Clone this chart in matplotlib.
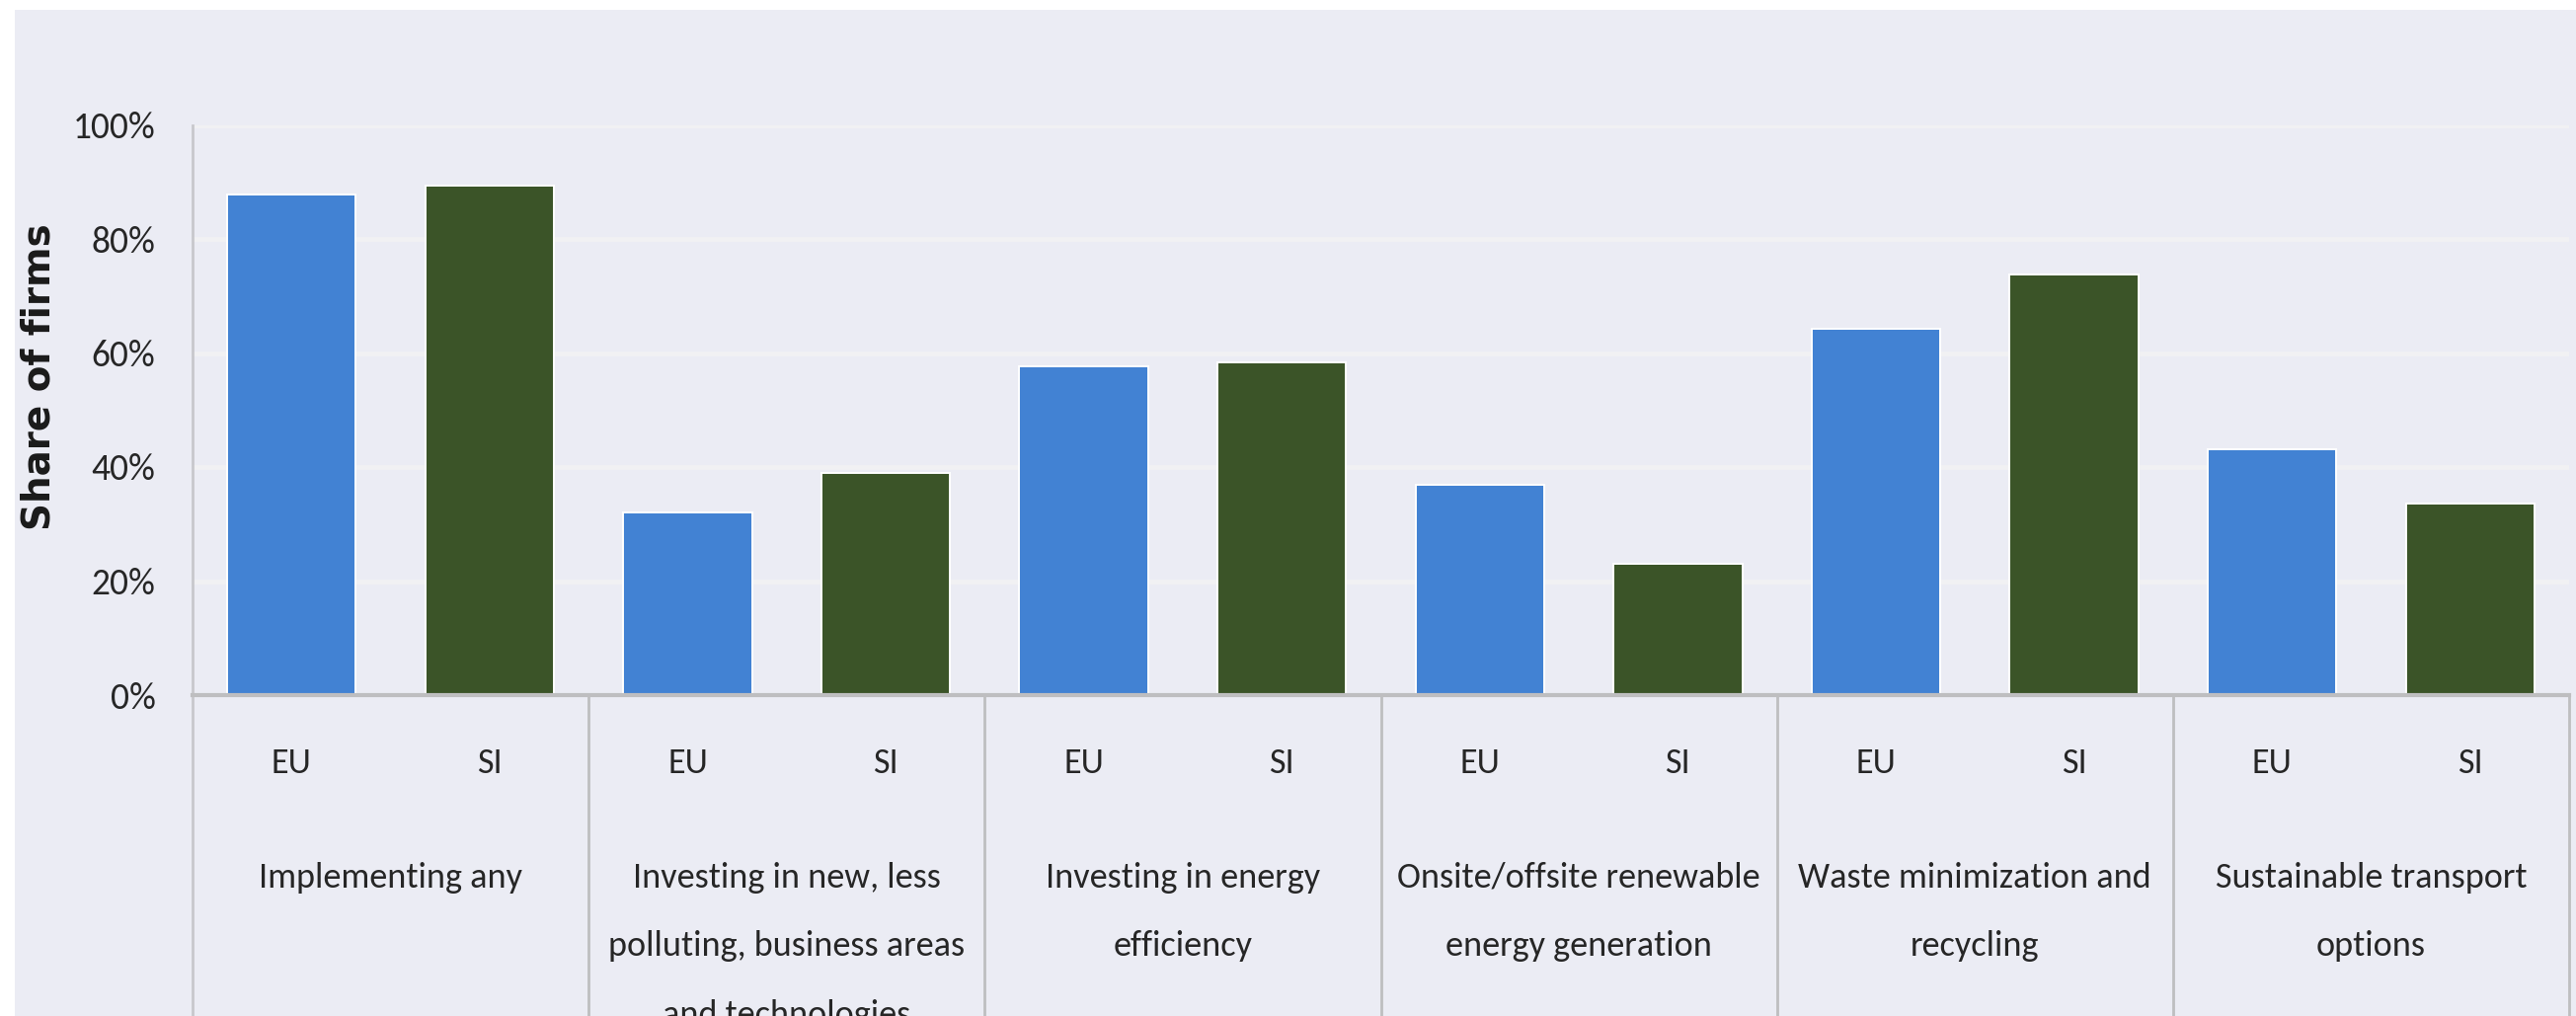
import matplotlib
matplotlib.use("Agg")
import matplotlib.pyplot as plt
from matplotlib import font_manager
from matplotlib.patches import Rectangle
from matplotlib.transforms import blended_transform_factory

# ---- data -------------------------------------------------------------
categories = [
    "Implementing any",
    "Investing in new, less\npolluting, business areas\nand technologies",
    "Investing in energy\nefficiency",
    "Onsite/offsite renewable\nenergy generation",
    "Waste minimization and\nrecycling",
    "Sustainable transport\noptions",
]
series_names = ["EU", "SI"]
eu_share = [87.8, 32.0, 57.7, 36.9, 64.2, 43.1]
si_share = [89.3, 39.0, 58.4, 23.0, 73.7, 33.6]
y_ticks = [0, 20, 40, 60, 80, 100]
y_tick_labels = ["0%", "20%", "40%", "60%", "80%", "100%"]
y_title = "Share of firms"

# ---- style ------------------------------------------------------------
W, H, DPI = 2609, 1029, 100
BG = "#EBECF4"
GRID = "#F1F1F3"
RULE = "#BEBEC0"
TXT = "#262626"
COLORS = ["#4282D3", "#3B5428"]

installed = {f.name for f in font_manager.fontManager.ttflist}
prefs = [("Carlito", 26), ("Liberation Sans Narrow", 27),
         ("Roboto Condensed", 26), ("DejaVu Sans Condensed", 24),
         ("Liberation Sans", 23)]
FONT, FS = next(((n, s) for n, s in prefs if n in installed), ("DejaVu Sans", 21))
plt.rcParams["font.family"] = [FONT, "DejaVu Sans"]

fig = plt.figure(figsize=(W / DPI, H / DPI), dpi=DPI, facecolor="white")
fig.add_artist(Rectangle((15 / W, 0), 1, 1 - 10 / H, transform=fig.transFigure,
                         facecolor=BG, edgecolor="none", zorder=-10))

x0, x1, y_zero, y_top = 195, 2602, 704, 126.5
ax = fig.add_axes([x0 / W, (H - y_zero) / H, (x1 - x0) / W, (y_zero - y_top) / H])
ax.set_facecolor("none")
ax.set_xlim(0, 2 * len(categories))
ax.set_ylim(0, 100)
for s in ax.spines.values():
    s.set_visible(False)

ax.set_axisbelow(True)
ax.yaxis.grid(True, color=GRID, linewidth=3.5)
ax.xaxis.grid(False)

# bars: two slots per category group
for k, (name, vals) in enumerate(zip(series_names, [eu_share, si_share])):
    xs = [2 * i + 0.5 + k for i in range(len(categories))]
    ax.bar(xs, vals, width=0.65, color=COLORS[k], edgecolor="white",
           linewidth=1.4, zorder=2, label=name)

# axis rules and group separators reaching into the label band
bt = blended_transform_factory(ax.transData, ax.transAxes)
ax.plot([0, 0], [1, -0.6], transform=ax.transAxes, color="#C8C8CC", lw=2,
        clip_on=False, zorder=3)
for i in range(1, len(categories) + 1):
    ax.plot([2 * i, 2 * i], [0, -0.6], transform=bt, color=RULE, lw=2,
            clip_on=False, zorder=3)
ax.axhline(0, color=RULE, lw=3, clip_on=False, zorder=4)

# ticks
ax.set_yticks(y_ticks, y_tick_labels)
ax.tick_params(axis="y", length=0, pad=27, labelsize=FS + 1, labelcolor=TXT)
xt = [2 * i + 0.5 + k for i in range(len(categories)) for k in range(2)]
ax.set_xticks(xt, [series_names[k] for i in range(len(categories)) for k in range(2)])
ax.tick_params(axis="x", length=0, pad=38, labelsize=FS, labelcolor=TXT)

for i, cat in enumerate(categories):
    ax.text(2 * i + 1, -0.292, cat, transform=bt, ha="center", va="top",
            fontsize=FS, color=TXT, linespacing=2.45, clip_on=False)

fig.text(40 / W, 1 - 382 / H, y_title, rotation=90, ha="center", va="center",
         fontsize=28, fontweight="bold", family="DejaVu Sans", color="#1A1A1A")

fig.savefig("out.png", dpi=DPI, facecolor="white")
